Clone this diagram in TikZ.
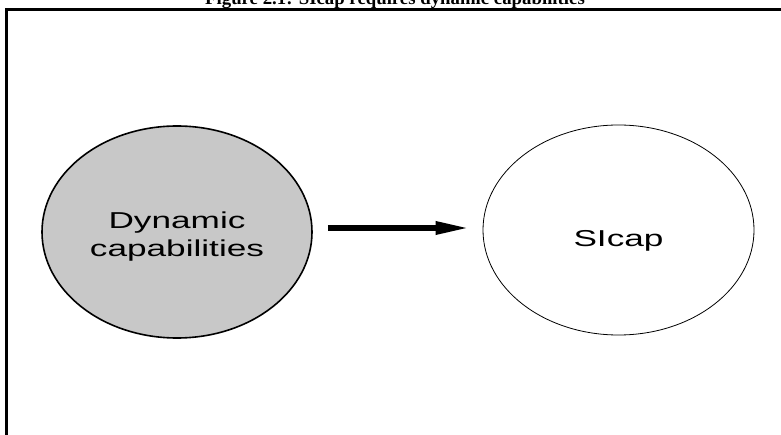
\documentclass[tikz,border=0pt]{standalone}
\usepackage{fontspec}
\setmainfont{Liberation Serif}
\newfontfamily\widesans[FakeStretch=1.53]{Liberation Sans}
\usetikzlibrary{shapes.geometric,arrows.meta}
\definecolor{bubblegray}{RGB}{200,200,200}
\begin{document}
\begin{tikzpicture}[x=1pt,y=-1pt,
  bubble/.style={ellipse,draw=black,inner sep=0pt,minimum width=270pt,minimum height=212pt},
  bubbletext/.style={align=center,font=\widesans\fontsize{23}{28}\selectfont,inner sep=0pt},
  flow/.style={line width=6pt,-{Triangle[length=35pt,width=12pt]},shorten <=15pt,shorten >=12pt},
  frameline/.style={line width=3pt}]
  \useasboundingbox (0,0) rectangle (781,435);
  % caption above the figure frame
  \node[anchor=base,inner sep=0pt,font=\bfseries\fontsize{18.8}{21}\selectfont] (title) at (395,5)
    {Figure 2.1: SIcap requires dynamic capabilities};
  % figure frame
  \draw[frameline] (6.5,445) -- (6.5,9.5) -- (795,9.5);
  % the two concepts
  \node[bubble,fill=bubblegray,line width=1.6pt] (dc) at (177,232) {};
  \node[bubbletext] (dctext) at ([yshift=-5pt]dc.center) {Dynamic\\capabilities};
  \node[bubble,line width=0.8pt,minimum width=271pt,minimum height=210pt] (si) at (618.5,230) {};
  \node[bubbletext] (sitext) at ([yshift=-11pt]si.center) {SIcap};
  % influence arrow
  \draw[flow] ([yshift=4pt]dc.east) -- ([yshift=2pt]si.west);
\end{tikzpicture}
\end{document}
